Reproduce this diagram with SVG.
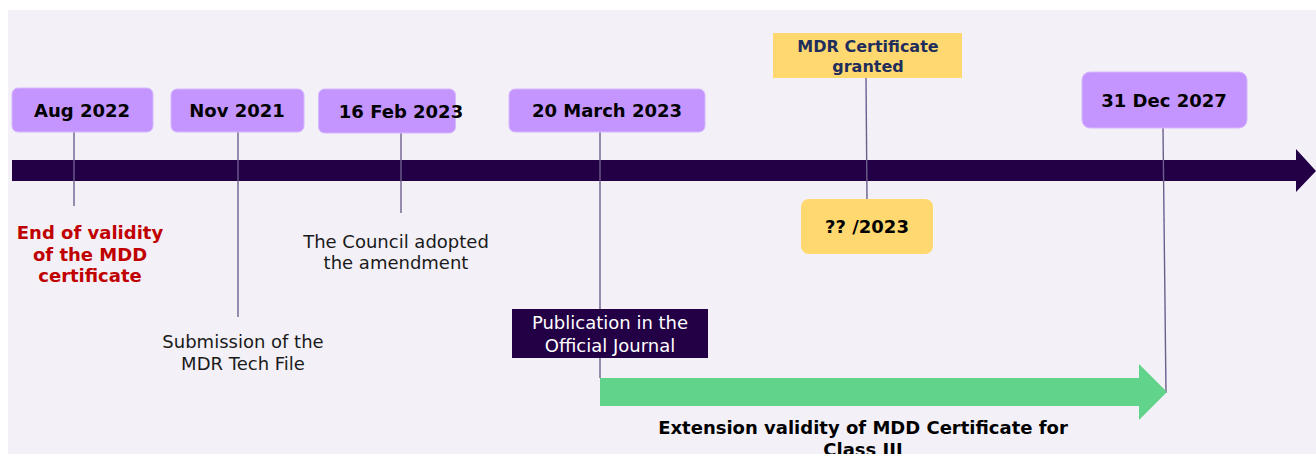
<svg xmlns="http://www.w3.org/2000/svg" width="1316" height="454" viewBox="0 0 1316 454">
<style>
.date{fill:#c495fe;stroke:#d6b8ff;stroke-width:1}
.dt{font-family:"DejaVu Sans",Verdana,sans-serif;font-weight:bold;font-size:18px;fill:#000;text-anchor:middle}
.lbl{font-family:"DejaVu Sans",Verdana,sans-serif;font-size:18px;fill:#1a1a1a;text-anchor:middle}
.red{font-family:"DejaVu Sans",Verdana,sans-serif;font-weight:bold;font-size:18px;fill:#c00000;text-anchor:middle}
.conn{stroke:#6e5e8e;stroke-width:1.4;fill:none}
</style>
<rect x="0" y="0" width="1316" height="454" fill="#ffffff"/>
<rect x="8" y="10" width="1308" height="444" fill="#f3f1f7"/>
<g id="timeline">
<polygon points="12,160 1296,160 1296,149 1316,171 1296,192 1296,181 12,181" fill="#230046"/>
</g>
<g id="connectors">
<line class="conn" x1="74" y1="132" x2="74" y2="206"/>
<line class="conn" x1="238" y1="132" x2="238" y2="317"/>
<line class="conn" x1="401" y1="133" x2="401" y2="213"/>
<line class="conn" x1="600" y1="132" x2="600" y2="378"/>
<line class="conn" x1="866" y1="78" x2="867" y2="199"/>
<line class="conn" x1="1163" y1="128" x2="1166" y2="393"/>
</g>
<g id="extension-arrow">
<polygon points="600,378 1139,378 1139,364 1167,392 1139,420 1139,406 600,406" fill="#62d38a"/>
<text class="dt" x="863" y="434">Extension validity of MDD Certificate for</text>
<text class="dt" x="863" y="456">Class III</text>
</g>
<g id="aug2022">
<rect class="date" x="12" y="88" width="141" height="44" rx="6"/>
<text class="dt" x="82" y="117">Aug 2022</text>
</g>
<g id="end-validity">
<text class="red" x="90" y="239">End of validity</text>
<text class="red" x="90" y="261">of the MDD</text>
<text class="red" x="90" y="282">certificate</text>
</g>
<g id="nov2021">
<rect class="date" x="171" y="89" width="133" height="43" rx="6"/>
<text class="dt" x="237" y="117">Nov 2021</text>
</g>
<g id="submission">
<text class="lbl" x="243" y="348">Submission of the</text>
<text class="lbl" x="243" y="370">MDR Tech File</text>
</g>
<g id="feb2023">
<rect class="date" x="318.500" y="89" width="137" height="44" rx="6"/>
<text class="dt" x="401" y="118">16 Feb 2023</text>
</g>
<g id="council">
<text class="lbl" x="396" y="248">The Council adopted</text>
<text class="lbl" x="396" y="269">the amendment</text>
</g>
<g id="march2023">
<rect class="date" x="509" y="89" width="196" height="43" rx="6"/>
<text class="dt" x="607" y="117">20 March 2023</text>
</g>
<g id="publication">
<rect x="512" y="309" width="196" height="49" fill="#230046"/>
<text class="lbl" x="610" y="329" fill="#ffffff" style="fill:#ffffff">Publication in the</text>
<text class="lbl" x="610" y="352" style="fill:#ffffff">Official Journal</text>
</g>
<g id="mdr-granted">
<rect x="773" y="33" width="189" height="45" fill="#ffd970"/>
<text class="dt" x="868" y="52" style="font-size:16px;fill:#1f2d5c">MDR Certificate</text>
<text class="dt" x="868" y="72" style="font-size:16px;fill:#1f2d5c">granted</text>
</g>
<g id="q2023">
<rect x="801" y="199" width="132" height="55" rx="8" fill="#ffd970"/>
<text class="dt" x="867" y="233">?? /2023</text>
</g>
<g id="dec2027">
<rect class="date" x="1082" y="72" width="165" height="56" rx="8"/>
<text class="dt" x="1164" y="107">31 Dec 2027</text>
</g>
</svg>
